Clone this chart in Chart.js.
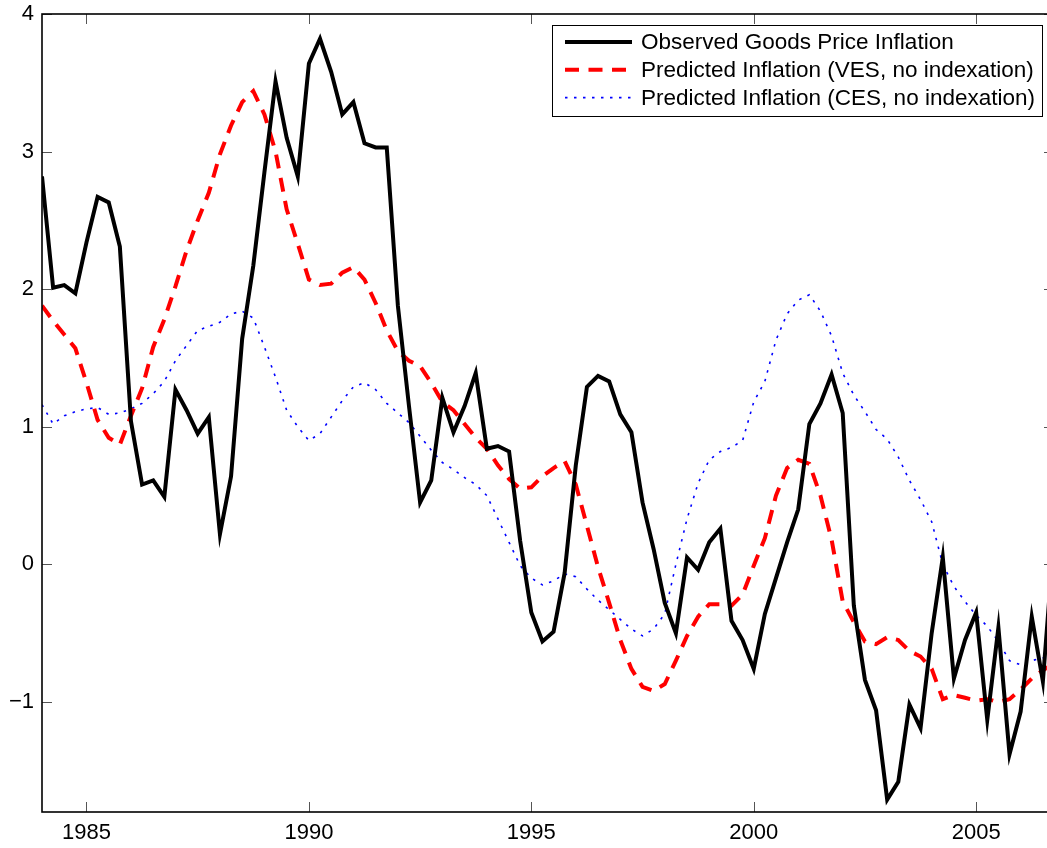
<!DOCTYPE html>
<html>
<head>
<meta charset="utf-8">
<script src="https://cdn.jsdelivr.net/npm/chart.js@4.4.1/dist/chart.umd.min.js"></script>
<style>
  html, body { margin: 0; padding: 0; background: #fff; overflow: hidden; }
  #wrap { width: 1047px; height: 848px; overflow: hidden; }
</style>
</head>
<body>
<div id="wrap"><canvas id="c" width="1054" height="848"></canvas></div>
<script>
// quarterly data, 1984Q1 .. 2006Q4
const startYear = 1984;
const xTicks = [1985, 1990, 1995, 2000, 2005];
const yTicks = [-1, 0, 1, 2, 3, 4];

const observed = [
  2.82, 2.01, 2.03, 1.97, 2.34, 2.67, 2.63, 2.31, 1.04, 0.58,
  0.61, 0.49, 1.27, 1.12, 0.95, 1.07, 0.22, 0.64, 1.64, 2.17,
  2.85, 3.51, 3.10, 2.82, 3.64, 3.82, 3.58, 3.27, 3.36, 3.06,
  3.03, 3.03, 1.88, 1.15, 0.45, 0.61, 1.21, 0.96, 1.15, 1.39,
  0.84, 0.86, 0.82, 0.17, -0.35, -0.56, -0.49, -0.06, 0.72, 1.29,
  1.37, 1.33, 1.09, 0.96, 0.45, 0.11, -0.28, -0.50, 0.05, -0.04,
  0.16, 0.26, -0.41, -0.55, -0.76, -0.36, -0.10, 0.16, 0.40, 1.02,
  1.17, 1.38, 1.10, -0.30, -0.84, -1.06, -1.71, -1.58, -1.02, -1.19,
  -0.50, 0.05, -0.83, -0.55, -0.35, -1.13, -0.46, -1.38, -1.07, -0.38,
  -0.85, 0.20
];

const predVES = [
  1.88, 1.77, 1.67, 1.57, 1.32, 1.05, 0.92, 0.87, 1.08, 1.28,
  1.58, 1.78, 2.02, 2.28, 2.50, 2.70, 2.98, 3.19, 3.36, 3.44,
  3.27, 3.00, 2.58, 2.33, 2.07, 2.03, 2.04, 2.12, 2.16, 2.07,
  1.90, 1.70, 1.55, 1.48, 1.44, 1.32, 1.18, 1.12, 1.02, 0.92,
  0.84, 0.72, 0.62, 0.55, 0.56, 0.64, 0.70, 0.75, 0.58, 0.28,
  -0.02, -0.28, -0.55, -0.76, -0.89, -0.92, -0.87, -0.70, -0.52, -0.38,
  -0.29, -0.29, -0.30, -0.22, -0.01, 0.19, 0.50, 0.70, 0.76, 0.73,
  0.50, 0.18, -0.27, -0.42, -0.56, -0.58, -0.53, -0.55, -0.63, -0.67,
  -0.76, -0.98, -0.95, -0.97, -0.99, -0.98, -1.00, -0.98, -0.91, -0.83,
  -0.77, -0.72
];

const predCES = [
  1.16, 1.02, 1.08, 1.11, 1.13, 1.14, 1.09, 1.10, 1.13, 1.17,
  1.24, 1.33, 1.48, 1.59, 1.70, 1.73, 1.76, 1.82, 1.84, 1.79,
  1.58, 1.36, 1.12, 1.00, 0.90, 0.95, 1.07, 1.19, 1.29, 1.32,
  1.27, 1.17, 1.10, 1.03, 0.93, 0.83, 0.74, 0.69, 0.63, 0.58,
  0.50, 0.33, 0.16, -0.01, -0.10, -0.15, -0.12, -0.07, -0.09, -0.18,
  -0.26, -0.33, -0.40, -0.47, -0.52, -0.47, -0.36, 0.00, 0.33, 0.59,
  0.76, 0.82, 0.85, 0.90, 1.18, 1.33, 1.63, 1.82, 1.92, 1.96,
  1.84, 1.66, 1.39, 1.23, 1.11, 0.98, 0.91, 0.78, 0.61, 0.47,
  0.31, 0.00, -0.16, -0.27, -0.37, -0.45, -0.56, -0.70, -0.73, -0.70,
  -0.68, -0.66
];

const quarters = observed.map((_, i) => startYear + i / 4);
const toPoints = arr => arr.map((v, i) => ({ x: quarters[i], y: v }));

const series = [
  { label: "Observed Goods Price Inflation", data: observed, color: "#000000", width: 4, dash: [] },
  { label: "Predicted Inflation (VES, no indexation)", data: predVES, color: "#ff0000", width: 4, dash: [14, 9.5] },
  { label: "Predicted Inflation (CES, no indexation)", data: predCES, color: "#0000ff", width: 1.6, dash: [2.5, 6.5] }
];

const FONT = "'Liberation Sans', Arial, Helvetica, sans-serif";

const frame = {
  id: "frame",
  afterDraw(chart) {
    const { ctx, chartArea: a, scales: { x, y } } = chart;
    ctx.save();
    // inward ticks
    ctx.strokeStyle = "#555";
    ctx.lineWidth = 1;
    ctx.beginPath();
    xTicks.forEach(v => {
      const px = Math.round(x.getPixelForValue(v)) + 0.5;
      ctx.moveTo(px, a.bottom); ctx.lineTo(px, a.bottom - 10);
      ctx.moveTo(px, a.top); ctx.lineTo(px, a.top + 10);
    });
    yTicks.forEach(v => {
      const py = Math.round(y.getPixelForValue(v)) + 0.5;
      ctx.moveTo(a.left, py); ctx.lineTo(a.left + 10, py);
      ctx.moveTo(a.right, py); ctx.lineTo(a.right - 10, py);
    });
    ctx.stroke();
    // box
    ctx.strokeStyle = "#000";
    ctx.lineWidth = 1.6;
    ctx.strokeRect(a.left, a.top, a.right - a.left, a.bottom - a.top);

    // legend
    const lx = 552, ly = 25, lw = 490, lh = 91;
    ctx.fillStyle = "#fff";
    ctx.fillRect(lx, ly, lw, lh);
    ctx.lineWidth = 1;
    ctx.strokeStyle = "#000";
    ctx.strokeRect(lx + 0.5, ly + 0.5, lw, lh);
    ctx.font = "22.5px " + FONT;
    ctx.textBaseline = "middle";
    ctx.textAlign = "left";
    series.forEach((s, i) => {
      const ry = 42 + i * 27.8;
      ctx.beginPath();
      ctx.strokeStyle = s.color;
      ctx.lineWidth = s.width;
      ctx.setLineDash(s.dash);
      ctx.moveTo(565, ry); ctx.lineTo(632, ry);
      ctx.stroke();
      ctx.setLineDash([]);
      ctx.fillStyle = "#000";
      ctx.fillText(s.label, 641, ry + 1);
    });
    ctx.restore();
  }
};

new Chart(document.getElementById("c"), {
  type: "line",
  data: {
    datasets: series.map(s => ({
      label: s.label,
      data: toPoints(s.data),
      borderColor: s.color,
      borderWidth: s.width,
      borderDash: s.dash,
      pointRadius: 0,
      tension: 0,
      fill: false
    }))
  },
  options: {
    responsive: false,
    animation: false,
    events: [],
    layout: { padding: { top: 14, right: 0, left: 0, bottom: 0 } },
    plugins: { legend: { display: false }, tooltip: { enabled: false } },
    scales: {
      x: {
        type: "linear",
        min: 1984,
        max: 2006.75,
        grid: { display: false, drawTicks: false },
        border: { display: false },
        afterFit: s => { s.height = 36; s.paddingLeft = 0; s.paddingRight = 0; },
        afterBuildTicks: s => { s.ticks = xTicks.map(v => ({ value: v })); },
        ticks: {
          color: "#000",
          padding: 8,
          maxRotation: 0,
          font: { family: FONT, size: 22 },
          callback: v => String(v)
        }
      },
      y: {
        min: -1.8,
        max: 4,
        grid: { display: false, drawTicks: false },
        border: { display: false },
        afterFit: s => { s.width = 42; s.paddingTop = 0; s.paddingBottom = 0; },
        afterBuildTicks: s => { s.ticks = yTicks.map(v => ({ value: v })); },
        ticks: {
          color: "#000",
          padding: 8,
          font: { family: FONT, size: 22 },
          callback: v => (v < 0 ? "\u2212" + Math.abs(v) : String(v))
        }
      }
    }
  },
  plugins: [frame]
});
</script>
</body>
</html>
